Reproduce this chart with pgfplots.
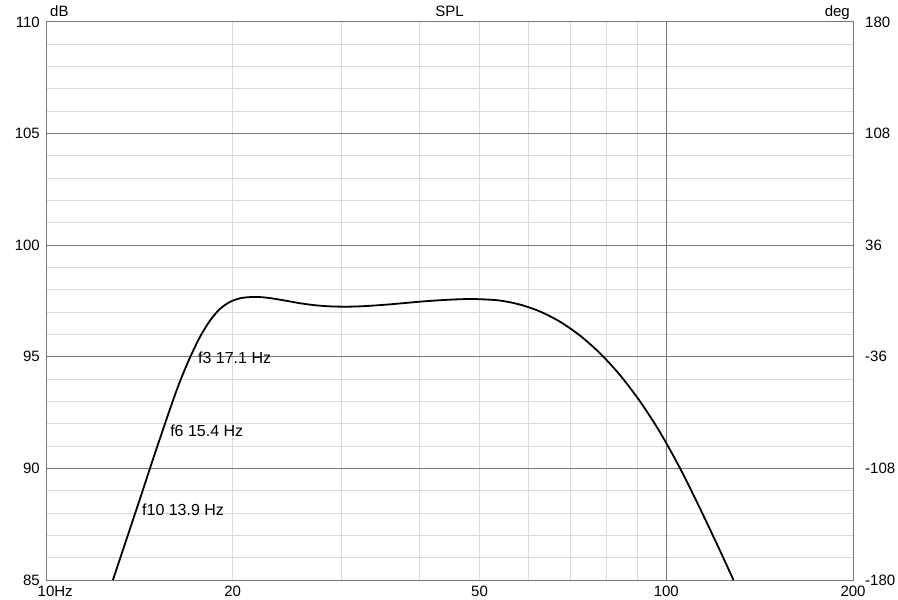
\documentclass[border=0pt]{standalone}
\usepackage{pgfplots}
\pgfplotsset{compat=1.18}
\usepackage{fontspec}
\setmainfont{Liberation Sans}
\definecolor{majgrid}{RGB}{120,120,120}
\definecolor{mingrid}{RGB}{218,218,218}
\begin{document}
\fontsize{15bp}{18bp}\selectfont
\begin{tikzpicture}
\path[use as bounding box] (-46bp,-20bp) rectangle (852bp,580bp);
\begin{axis}[
    at={(0,0)}, anchor=south west,
    scale only axis,
    width=807bp, height=558bp,
    xmode=log,
    xmin=10, xmax=200,
    ymin=85, ymax=110,
    xtick={10,20,50,100,200},
    xticklabels={10\rlap{Hz},20,50,100,200},
    minor xtick={20,30,40,50,60,70,80,90},
    extra x ticks={100},
    extra x tick labels={},
    extra x tick style={grid=major},
    ytick={85,90,...,110},
    minor ytick={86,87,88,89,91,92,93,94,96,97,98,99,101,102,103,104,106,107,108,109},
    xminorgrids=true, ymajorgrids=true, yminorgrids=true,
    major grid style={draw=majgrid, line width=1bp},
    minor grid style={draw=mingrid, line width=1bp},
    axis line style={draw=majgrid, line width=1bp},
    major tick length=0pt, minor tick length=0pt,
    tick style={draw=none},
    /pgf/number format/assume math mode=true,
    xticklabel style={anchor=north, inner sep=0pt, yshift=-6bp},
    yticklabel style={anchor=east, inner sep=0pt, xshift=-6bp},
    clip mode=individual,
]
% SPL response
\addplot[black, line width=1.8bp, smooth] coordinates {
    (12.82,85.00) (13.16,85.95) (13.66,87.30) (14.18,88.65) (14.71,90.00)
    (15.27,91.35) (15.85,92.67) (16.44,93.89) (17.07,94.97) (17.71,95.89)
    (18.38,96.62) (19.07,97.14) (19.80,97.46) (20.54,97.62) (21.32,97.675)
    (22.13,97.675) (22.97,97.63) (24.28,97.52) (25.67,97.40) (27.14,97.31)
    (28.70,97.26) (30.34,97.245) (32.08,97.26) (33.92,97.30) (35.86,97.35)
    (37.91,97.41) (40.09,97.47) (42.38,97.52) (44.81,97.56) (47.38,97.585)
    (50.09,97.58) (53.94,97.52) (58.09,97.34) (62.57,97.03) (67.41,96.57)
    (72.60,95.95) (78.18,95.16) (84.21,94.18) (90.71,93.00) (97.69,91.62)
    (105.22,90.01) (113.31,88.21) (122.03,86.32) (128.30,85.00)
};
\node[anchor=west, inner sep=0pt, font=\fontsize{16bp}{19bp}\selectfont] at (axis cs:17.58,94.95) {f3 17.1 Hz};
\node[anchor=west, inner sep=0pt, font=\fontsize{16bp}{19bp}\selectfont] at (axis cs:15.85,91.68) {f6 15.4 Hz};
\node[anchor=west, inner sep=0pt, font=\fontsize{16bp}{19bp}\selectfont] at (axis cs:14.28,88.14) {f10 13.9 Hz};
\node[anchor=base west, inner sep=0pt, xshift=4bp, yshift=5bp] at (rel axis cs:0,1) {dB};
\node[anchor=base, inner sep=0pt, yshift=5bp] at (rel axis cs:0.5,1) {SPL};
\node[anchor=base east, inner sep=0pt, xshift=-3bp, yshift=5bp] at (rel axis cs:1,1) {deg};
\end{axis}
\begin{axis}[
    at={(0,0)}, anchor=south west,
    scale only axis,
    width=807bp, height=558bp,
    xmin=0, xmax=1,
    ymin=-180, ymax=180,
    hide x axis,
    axis y line*=right,
    y axis line style={draw=none},
    ytick={-180,-108,-36,36,108,180},
    major tick length=0pt,
    tick style={draw=none},
    /pgf/number format/assume math mode=true,
    yticklabel style={anchor=west, inner sep=0pt, xshift=12bp},
]
\end{axis}
\end{tikzpicture}
\end{document}
